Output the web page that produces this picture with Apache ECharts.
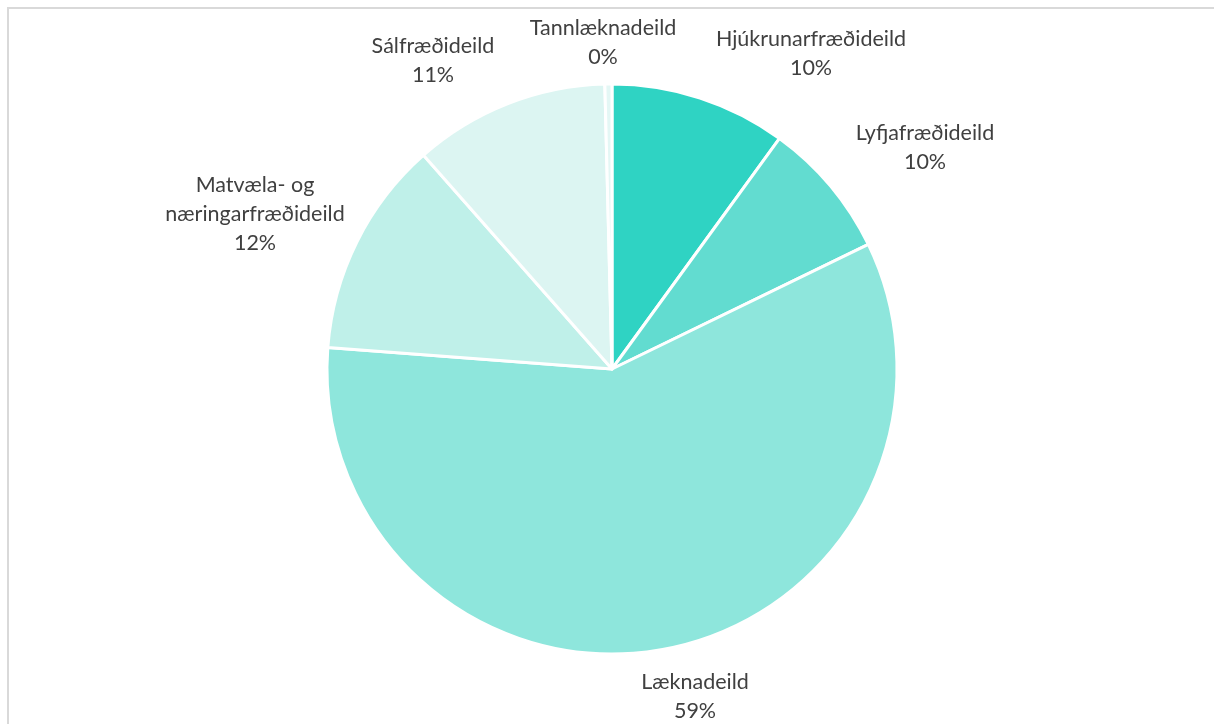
<!DOCTYPE html>
<html>
<head>
<meta charset="utf-8">
<script src="https://cdn.jsdelivr.net/npm/echarts@6/dist/echarts.min.js"></script>
<style>
  html, body { margin: 0; padding: 0; background: #fff; overflow: hidden; }
  #frame { position: absolute; left: 7px; top: 7px; width: 1400px; height: 900px;
           border: 2px solid #d9d9d9; box-sizing: border-box; }
  #echart-root { position: absolute; left: 0; top: 0; width: 1214px; height: 724px; }
</style>
</head>
<body>
<div id="frame"></div>
<div id="echart-root"></div>
<script>
// deildir, réttsælis frá toppi
const categories = [
  "Hjúkrunarfræðideild",
  "Lyfjafræðideild",
  "Læknadeild",
  "Matvæla- og\nnæringarfræðideild",
  "Sálfræðideild",
  "Tannlæknadeild"
];
// hlutföll lesin af myndinni (horn sneiða)
const values = [10.0, 7.8, 58.4, 12.3, 11.1, 0.4];
// prósentutölur eins og þær standa í merkjunum
const pctLabels = ["10%", "10%", "59%", "12%", "11%", "0%"];
const colors = ["#2fd3c3", "#62dcd0", "#8ee6dc", "#bff0e9", "#dcf5f2", "#e4f7f5"];

// staðsetning merkja (miðja texta)
const labelPos = [
  [811, 54], [925, 148], [695, 697], [255, 214], [433, 61], [603, 43]
];

const myChart = echarts.init(document.getElementById("echart-root"));

const option = {
  animation: false,
  series: [
    {
      type: "pie",
      center: [612, 369],
      radius: 285,
      startAngle: 90,
      clockwise: true,
      avoidLabelOverlap: false,
      data: categories.map((name, i) => ({
        name: name,
        value: values[i],
        itemStyle: { color: colors[i] }
      })),
      itemStyle: { borderColor: "#fff", borderWidth: 3 },
      label: {
        show: true,
        position: "outside",
        formatter: (params) => params.name + "\n" + pctLabels[params.dataIndex],
        color: "#404040",
        fontFamily: "Lato",
        fontSize: 21.5,
        lineHeight: 29,
        align: "center"
      },
      labelLine: { show: false },
      labelLayout: (params) => ({
        x: labelPos[params.dataIndex][0],
        y: labelPos[params.dataIndex][1],
        align: "center",
        verticalAlign: "middle"
      }),
      emphasis: { disabled: true }
    }
  ]
};

myChart.setOption(option);
</script>
</body>
</html>
